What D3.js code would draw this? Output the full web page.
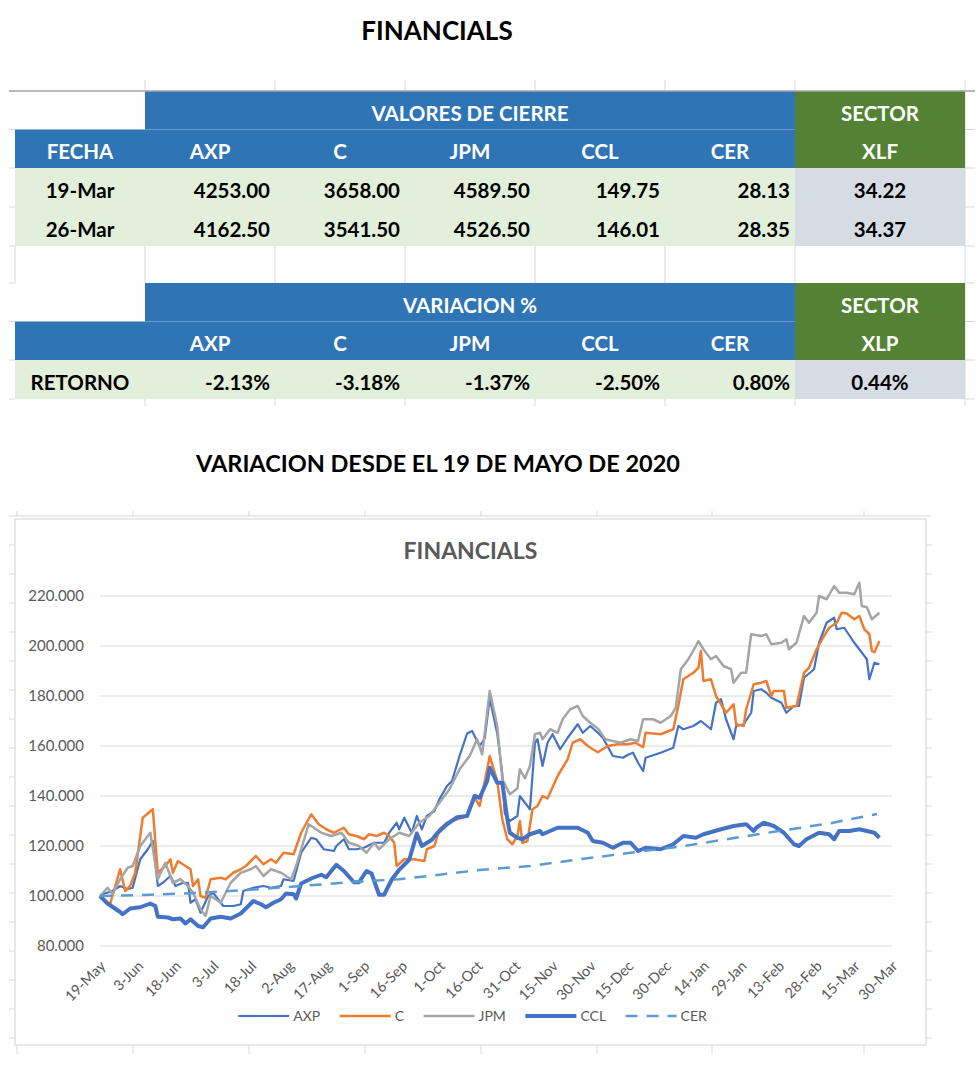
<!DOCTYPE html>
<html><head><meta charset="utf-8">
<script src="https://cdn.jsdelivr.net/npm/d3@7"></script>
<style>
body{margin:0;background:#fff;}
svg{display:block;font-family:Lato,"Open Sans",sans-serif;}
</style></head><body>
<svg id="c" width="980" height="1070"></svg>
<script>
// ---------------- DATA ----------------
const tickers = ["AXP","C","JPM","CCL","CER"];
const fechas = ["19-Mar","26-Mar"];
const cierre19 = [4253.00,3658.00,4589.50,149.75,28.13];
const cierre26 = [4162.50,3541.50,4526.50,146.01,28.35];
const xlfCierre = [34.22,34.37];
const retorno = [-2.13,-3.18,-1.37,-2.50,0.80];
const xlpRetorno = 0.44;

const startDate = "2020-05-19";
const xTickDates = ["2020-05-19","2020-06-03","2020-06-18","2020-07-03","2020-07-18","2020-08-02","2020-08-17","2020-09-01","2020-09-16","2020-10-01","2020-10-16","2020-10-31","2020-11-15","2020-11-30","2020-12-15","2020-12-30","2021-01-14","2021-01-29","2021-02-13","2021-02-28","2021-03-15","2021-03-30"];
const yTicks = [80,100,120,140,160,180,200,220];

// [days since 19-May-2020, index value]
const axp = [[0,100],[1,100.7],[5,102],[8,104],[11,102.7],[13,103.3],[16,114.7],[19,118.7],[21,122],[23,104],[25,105.3],[28,108],[30,104],[33,105.3],[35,105.3],[36,97.3],[38,98.7],[40,93.3],[43,100],[45,101.3],[49,96],[53,96],[56,96.7],[57,102],[61,103.3],[65,104],[68,103.3],[72,104],[73,106.7],[77,106],[80,117.3],[84,123.3],[86,122.7],[89,118.7],[93,118],[94,120],[97,122.7],[99,118.7],[102,118.7],[105,119.3],[109,121.3],[113,121.3],[115,125.3],[118,129.3],[119,126.7],[121,131.3],[124,125.3],[126,132],[128,126.7],[130,132],[133,134],[135,138.7],[138,144],[140,146],[143,156],[146,165],[148,166],[151,160],[153,163],[155,179],[158,165],[160,149],[161,133],[163,130],[166,132],[167,140],[169,137.3],[171,134.7],[173,161.3],[174,162.7],[176,152],[178,161.3],[180,164.7],[183,158.7],[186,163.3],[190,168.7],[192,165.3],[195,168],[198,165.3],[200,163.3],[204,156],[208,155.3],[210,156.5],[212,157.3],[214,153.3],[216,150],[217,155.3],[223,157.3],[228,159.3],[230,168],[232,166.7],[236,168],[239,170],[243,166.7],[245,177.3],[247,178.7],[249,170.7],[252,162.7],[253,168],[256,168.7],[259,173.3],[260,182],[263,182.7],[265,181.3],[267,179.3],[271,177.3],[273,173.3],[276,176],[278,176],[280,187.3],[284,190.7],[286,201.3],[289,209.3],[292,211.3],[293,206.7],[296,207.3],[300,201.3],[302,198.7],[305,194.7],[306,186.7],[308,193.3],[310,192.7]];

const citi = [[0,100],[4,96.7],[8,110.7],[10,102],[12,104],[14,109.3],[17,131.3],[21,134.7],[23,109.3],[26,112],[28,114.7],[29,109.3],[31,114],[34,112],[36,110.7],[37,104],[39,106.7],[40,100],[42,99.3],[44,106.7],[48,107.3],[50,106.7],[53,109.3],[56,110.7],[58,112],[62,116],[65,112.7],[68,114.7],[70,113.3],[73,117.3],[77,116.7],[80,125.3],[84,132.7],[87,128.7],[90,126.7],[93,125.3],[97,127.3],[99,124.7],[102,124],[105,122.7],[107,124.7],[110,124],[113,125.3],[115,124],[117,121.3],[118,112],[121,114.7],[125,114.7],[129,114],[130,118.7],[133,120],[135,126.7],[138,129.3],[142,130.7],[146,132],[149,139.3],[151,136],[154,150.7],[155,156],[158,146],[160,130.7],[162,122.7],[164,120.7],[166,124],[167,130],[168,121.3],[170,122],[172,134.7],[174,136],[176,140],[178,139],[182,148],[186,154.7],[188,161.3],[191,162.7],[194,160],[196,158.7],[198,157.5],[202,160],[206,160.7],[210,160.7],[213,161.3],[216,159.5],[217,165.3],[223,164.7],[228,166.7],[230,176],[232,186.7],[236,189.3],[238,191.3],[239,198],[240,186],[243,186.7],[245,180],[249,173.3],[252,176.7],[253,168.7],[256,168],[257,174.7],[260,184.7],[263,185.3],[265,186],[267,180],[268,182],[272,182],[273,175.3],[277,176],[280,189.3],[282,191.3],[285,198.7],[288,204],[290,207.3],[293,209.3],[295,213.3],[297,213],[300,210.7],[302,212],[304,206.7],[306,204.7],[307,198],[308,197.5],[310,202]];

const jpm = [[0,100],[3,103.3],[5,100.7],[8,106.7],[11,111.3],[13,112],[16,120],[20,125.3],[23,106.7],[26,113.3],[29,105.3],[32,106.7],[35,104],[37,101.3],[40,94.7],[42,92],[44,100],[48,97.3],[52,105.3],[56,109.3],[60,110.7],[62,112],[65,108],[68,110.7],[72,109.3],[76,106.7],[78,112],[83,128.7],[88,125.3],[92,124],[96,125.3],[99,121.3],[103,120],[106,117.3],[109,121.3],[111,118.7],[115,122.7],[119,125.3],[123,124],[127,129.3],[131,132],[135,137.3],[139,142.7],[143,150.7],[147,156],[150,162.7],[152,156.7],[155,182],[158,168],[160,146.7],[163,140.7],[166,143],[167,150.7],[169,147],[171,152],[173,164.7],[175,165.3],[176,162.7],[179,166.7],[182,165.3],[184,170.7],[187,174.7],[190,176],[192,172],[195,169.3],[198,167],[201,162.7],[207,161.3],[211,162.7],[214,162],[216,170.7],[220,170.7],[223,169.3],[227,172],[229,175.3],[231,190.7],[234,194.7],[237,200],[238,202],[240,198.7],[243,194.7],[245,196],[248,192],[251,190.7],[252,185.3],[255,189.3],[257,189.3],[258,197.3],[259,204.7],[263,204],[265,204.7],[267,200.7],[271,201.3],[273,202.7],[274,198.7],[277,201.3],[280,212],[282,209.3],[285,213.3],[286,220],[289,218.7],[292,224],[294,221.3],[297,221.3],[300,220.7],[302,225.3],[303,216],[305,215.5],[307,210.7],[310,213.3]];

const ccl = [[0,100],[3,97],[8,93.6],[9,92.7],[12,95],[16,95.5],[20,97],[22,96],[23,91.7],[27,91.4],[29,90.7],[32,91],[34,89],[36,90.7],[39,88],[41,87.5],[44,91],[48,91.7],[52,91],[56,93],[58,95],[61,98],[64,96.7],[66,95.5],[69,97.3],[72,98.7],[74,101],[77,100.7],[78,99],[80,105],[84,107],[88,108.5],[90,107.5],[94,112.5],[97,110],[101,105.5],[103,105.5],[106,110],[108,109],[111,100.5],[113,100.5],[116,106.5],[119,110.5],[123,114.5],[126,125],[128,120],[132,122.5],[134,125],[138,128.7],[142,131.5],[146,132],[149,140],[151,139.3],[154,146],[155,151.3],[158,145.3],[160,145.3],[162,130.7],[163,125.3],[166,123.3],[168,122.7],[171,124.7],[175,126],[176,124.7],[182,127.3],[186,127.3],[190,127.3],[194,125.3],[196,122],[200,121.3],[204,119.3],[208,121.3],[211,121.3],[214,118],[217,119.3],[223,118.7],[228,120.7],[232,124],[237,123.3],[240,124.7],[247,126.7],[252,128],[257,128.7],[260,126],[261,127.3],[264,129.3],[268,128],[272,125.3],[276,120.7],[278,120],[281,122.7],[286,125.3],[290,124.7],[292,122.7],[294,126],[298,126],[302,126.7],[308,125.3],[310,123.3]];

const cer = [[0,100],[20,100.5],[40,101.3],[60,102.5],[80,104],[99,105.5],[119,106.7],[135,108.5],[151,110.4],[171,112],[191,114.7],[211,117.3],[231,119.8],[251,123],[270,126],[290,129],[309,132.8]];

// ---------------- DRAW ----------------
const svg = d3.select("#c");
const BLUE = "#2F75B5", GREEN = "#548235", LGREEN = "#E2EFDA", GRAYB = "#D6DCE4";
const SHEET = "#d9d9d9";
const loc = d3.formatLocale({decimal: ".", thousands: ",", grouping: [3], currency: ["$", ""], minus: "-"});
const f2 = loc.format(".2f");

function box(x0, x1, y0, y1, fill) {
  svg.append("rect").attr("x", x0).attr("y", y0).attr("width", x1 - x0).attr("height", y1 - y0).attr("fill", fill);
}
function txt(xp, yp, s, anchor, fill, size, weight) {
  return svg.append("text").attr("x", xp).attr("y", yp).attr("text-anchor", anchor)
    .attr("fill", fill).attr("font-size", size).attr("font-weight", weight || "bold").text(s);
}
function seg(x1, y1, x2, y2, c, w) {
  svg.append("line").attr("x1", x1).attr("y1", y1).attr("x2", x2).attr("y2", y2)
    .attr("stroke", c).attr("stroke-width", w || 1);
}

// Titles
txt(437, 40, "FINANCIALS", "middle", "#000", 26);
txt(438, 472, "VARIACION DESDE EL 19 DE MAYO DE 2020", "middle", "#000", 23.5);

// Table layout
const colX = [15, 145, 275, 405, 535, 665, 795, 965];
const rowY = [91, 129.5, 168, 207, 246, 283, 321.5, 360, 399];
const colC = i => (colX[i] + colX[i + 1]) / 2;
const base = r => (rowY[r] + rowY[r + 1]) / 2 + 10.5;
const FS = 20.5;

// sheet gridlines in table zone
rowY.forEach(yv => { seg(9, yv, 15, yv, SHEET); seg(965, yv, 975, yv, SHEET); });
colX.slice(1, 7).forEach(xv => { seg(xv, 80, xv, 91, SHEET); seg(xv, rowY[4], xv, rowY[5], SHEET); seg(xv, 399, xv, 406, SHEET); });
seg(965, 80, 965, 406, SHEET);
seg(15, rowY[4], 15, rowY[5], SHEET);

function headerBlock(r, title, sectorTop, sectorBottom, firstLabel) {
  box(colX[1], colX[6], rowY[r], rowY[r + 1], BLUE);
  box(colX[0], colX[6], rowY[r + 1], rowY[r + 2], BLUE);
  box(colX[6], colX[7], rowY[r], rowY[r + 2], GREEN);
  txt((colX[1] + colX[6]) / 2, base(r), title, "middle", "#fff", FS);
  txt(colC(6), base(r), sectorTop, "middle", "#fff", FS);
  txt(colC(6), base(r + 1), sectorBottom, "middle", "#fff", FS);
  if (firstLabel) txt(colC(0), base(r + 1), firstLabel, "middle", "#fff", FS);
  tickers.forEach((t, i) => txt(colC(i + 1), base(r + 1), t, "middle", "#fff", FS));
}
headerBlock(0, "VALORES DE CIERRE", "SECTOR", "XLF", "FECHA");
[cierre19, cierre26].forEach((vals, k) => {
  const r = 2 + k;
  box(colX[0], colX[6], rowY[r], rowY[r + 1], LGREEN);
  box(colX[6], colX[7], rowY[r], rowY[r + 1], GRAYB);
  txt(colC(0), base(r), fechas[k], "middle", "#000", FS);
  vals.forEach((v, i) => txt(colX[i + 2] - 5, base(r), f2(v), "end", "#000", FS));
  txt(colC(6), base(r), f2(xlfCierre[k]), "middle", "#000", FS);
});
headerBlock(5, "VARIACION %", "SECTOR", "XLP", null);
box(colX[0], colX[6], rowY[7], rowY[8], LGREEN);
box(colX[6], colX[7], rowY[7], rowY[8], GRAYB);
txt(colC(0), base(7), "RETORNO", "middle", "#000", FS);
retorno.forEach((v, i) => txt(colX[i + 2] - 5, base(7), f2(v) + "%", "end", "#000", FS));
txt(colC(6), base(7), f2(xlpRetorno) + "%", "middle", "#000", FS);
seg(9, 91, 975, 91, "#a6a6a6", 1.5);

// -------- Chart --------
const CL = 15, CR = 926, CT = 519, CB = 1045;
seg(9, 516, 931, 516, SHEET);
[17, 133, 249, 365, 481, 597, 712, 864].forEach(xv => { seg(xv, 511, xv, 516, SHEET); seg(xv, CB, xv, CB + 9, SHEET); });
d3.range(545, 1045, 29).forEach(yv => { seg(9, yv, CL, yv, SHEET); seg(CR, yv, 932, yv, SHEET); });
svg.append("rect").attr("x", CL).attr("y", CT).attr("width", CR - CL).attr("height", CB - CT)
  .attr("fill", "#fff").attr("stroke", "#d9d9d9").attr("stroke-width", 1.2);

txt((CL + CR) / 2, 559, "FINANCIALS", "middle", "#595959", 23);

const parse = d3.utcParse("%Y-%m-%d");
const t0 = parse(startDate);
const x = d3.scaleUtc().domain([parse(xTickDates[0]), parse(xTickDates[xTickDates.length - 1])]).range([100, 892]);
const y = d3.scaleLinear().domain([80, 220]).range([946, 596]);

svg.append("g").selectAll("line").data(yTicks).join("line")
  .attr("x1", 100).attr("x2", 892).attr("y1", d => y(d)).attr("y2", d => y(d))
  .attr("stroke", "#d9d9d9").attr("stroke-width", 1.2);

const yAxis = svg.append("g").attr("transform", "translate(100,0)")
  .call(d3.axisLeft(y).tickValues(yTicks).tickFormat(loc.format(".3f")).tickSize(0).tickPadding(16));
yAxis.select(".domain").remove();
yAxis.selectAll("text").attr("fill", "#595959").attr("font-size", 15).attr("font-family", "Lato, sans-serif");

const fmt = d3.utcFormat("%-d-%b");
const xAxis = svg.append("g").attr("transform", "translate(0,946)")
  .call(d3.axisBottom(x).tickValues(xTickDates.map(parse)).tickFormat(fmt).tickSize(0));
xAxis.select(".domain").remove();
xAxis.selectAll("text").attr("x", 0).attr("y", 0).attr("dy", 0)
  .attr("transform", "translate(6,21) rotate(-45)").attr("text-anchor", "end")
  .attr("fill", "#595959").attr("font-size", 14.5).attr("font-family", "Lato, sans-serif");

const line = d3.line()
  .x(d => x(d3.utcDay.offset(t0, d[0])))
  .y(d => y(d[1]));

const series = [
  { name: "AXP", data: axp, color: "#4472C4", w: 2.2, dash: null },
  { name: "C", data: citi, color: "#ED7D31", w: 2.5, dash: null },
  { name: "JPM", data: jpm, color: "#A5A5A5", w: 2.5, dash: null },
  { name: "CCL", data: ccl, color: "#4472C4", w: 4, dash: null },
  { name: "CER", data: cer, color: "#5B9BD5", w: 2.5, dash: "12,9" }
];
svg.append("g").selectAll("path").data(series).join("path")
  .attr("d", s => line(s.data)).attr("fill", "none")
  .attr("stroke", s => s.color).attr("stroke-width", s => s.w)
  .attr("stroke-dasharray", s => s.dash).attr("stroke-linejoin", "round");

const lg = svg.append("g");
const items = lg.selectAll("g").data(series).join("g");
items.append("line").attr("x1", 0).attr("x2", 51).attr("y1", 0).attr("y2", 0)
  .attr("stroke", s => s.color).attr("stroke-width", s => s.w).attr("stroke-dasharray", s => s.dash);
items.append("text").attr("x", 55).attr("y", 5).attr("fill", "#595959").attr("font-size", 14).text(s => s.name);
let cx = 0;
items.each(function () {
  d3.select(this).attr("transform", `translate(${cx},0)`);
  cx += 55 + this.querySelector("text").getComputedTextLength() + 19.5;
});
const totalW = cx - 19.5;
lg.attr("transform", `translate(${(CL + CR) / 2 + 2 - totalW / 2},1016)`);
</script>
</body></html>
